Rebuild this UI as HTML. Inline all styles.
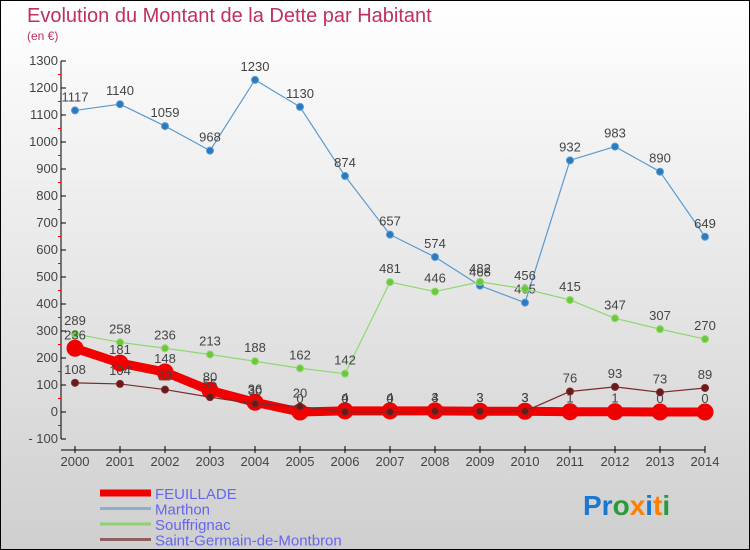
<!DOCTYPE html>
<html><head><meta charset="utf-8"><style>
body{margin:0;width:750px;height:550px;overflow:hidden;font-family:"Liberation Sans",sans-serif}
svg{display:block}
</style></head><body>
<svg width="750" height="550" xmlns="http://www.w3.org/2000/svg">
<defs><linearGradient id="bg" x1="0" y1="0" x2="0" y2="1"><stop offset="0" stop-color="#ffffff"/><stop offset="1" stop-color="#cfcfcf"/></linearGradient></defs>
<rect x="0.5" y="0.5" width="749" height="549" fill="url(#bg)" stroke="#000"/>
<text x="27" y="22" font-size="20" fill="#c0305a">Evolution du Montant de la Dette par Habitant</text>
<text x="27" y="40" font-size="12" fill="#c0305a">(en €)</text>
<g id="axes"></g><g id="series"></g><g id="legend"></g>
<text x="583" y="515" font-size="28" font-weight="bold"><tspan fill="#1a78d0">Pr</tspan><tspan fill="#2a9a3a">o</tspan><tspan fill="#ff7f00">x</tspan><tspan fill="#1a78d0">i</tspan><tspan fill="#ff7f00">t</tspan><tspan fill="#2a9a3a">i</tspan></text>
</svg>
<script>
const years=[2000,2001,2002,2003,2004,2005,2006,2007,2008,2009,2010,2011,2012,2013,2014];
const yTicks=[-100,0,100,200,300,400,500,600,700,800,900,1000,1100,1200,1300];
const feuillade=[236,181,148,80,36,0,4,4,4,3,3,1,1,0,0];
const marthon=[1117,1140,1059,968,1230,1130,874,657,574,468,405,932,983,890,649];
const souffrignac=[289,258,236,213,188,162,142,481,446,482,456,415,347,307,270];
const saintGermain=[108,104,83,55,30,20,0,0,3,3,3,76,93,73,89];
const NS="http://www.w3.org/2000/svg";
const xs=i=>75+i*45;
const ys=v=>412-v*0.27;
function mk(tag,attrs,parent,txt){const e=document.createElementNS(NS,tag);for(const k in attrs)e.setAttribute(k,attrs[k]);if(txt!==undefined)e.textContent=txt;parent.appendChild(e);return e;}
const ax=document.getElementById('axes');
let a=mk('line',{x1:61,y1:ys(1300),x2:61,y2:ys(-100),stroke:'#000'},ax);


yTicks.forEach(t=>{
  mk('line',{x1:61,y1:ys(t),x2:66,y2:ys(t),stroke:'#000'},ax);
  if(t<1300) mk('line',{x1:58,y1:ys(t+50),x2:61,y2:ys(t+50),stroke:'#e00'},ax);
  const l=mk('text',{x:58,y:ys(t)+4,'font-size':13,fill:'#444','text-anchor':'end'},ax,t===-100?'- 100':t);
  
  
});
a=mk('line',{x1:61,y1:ys(-100)+11,x2:705,y2:ys(-100)+11,stroke:'#000'},ax);


years.forEach((y,i)=>{
  mk('line',{x1:xs(i),y1:446,x2:xs(i),y2:453,stroke:'#000'},ax);
  const l=mk('text',{x:xs(i),y:466,'font-size':13,fill:'#444','text-anchor':'middle'},ax,y);
  
  
});
const S=document.getElementById('series');
function draw(vals,color,w,r,name,fill){
  const g=mk('g',{},S);
  
  
  mk('polyline',{points:vals.map((v,i)=>xs(i)+','+ys(v)).join(' '),fill:'none',stroke:color,'stroke-width':w,'stroke-linejoin':'round'},g);
  vals.forEach((v,i)=>{
    const c=mk('circle',{cx:xs(i),cy:ys(v),r:r,fill:fill,stroke:color,'stroke-width':1},g);
    
    
    const t=mk('text',{x:xs(i),y:ys(v)-9,'font-size':13,fill:'#444','text-anchor':'middle'},g,v);
    
    
  });
}
draw(marthon,'#5a9ad0',1.2,3.5,'marthon','#2a7abf');
draw(souffrignac,'#8fd870',1.2,3.5,'souffrignac','#6cc83a');
draw(feuillade,'#f00000',9,8,'feuillade','#f00000');
draw(saintGermain,'#7a2a2a',1.2,3.5,'saint-germain','#6a1a1a');
const L=document.getElementById('legend');
[['FEUILLADE','#f00000',7],['Marthon','#8ab0d0',3],['Souffrignac','#90d070',3],['Saint-Germain-de-Montbron','#906060',3]].forEach((d,i)=>{
  const g=mk('g',{},L);
  
  
  const y=493+i*15.5;
  mk('line',{x1:100,y1:y,x2:151,y2:y,stroke:d[1],'stroke-width':d[2]},g);
  mk('text',{x:155,y:y+6,'font-size':15,fill:'#6666ee'},g,d[0]);
});
</script>
</body></html>
